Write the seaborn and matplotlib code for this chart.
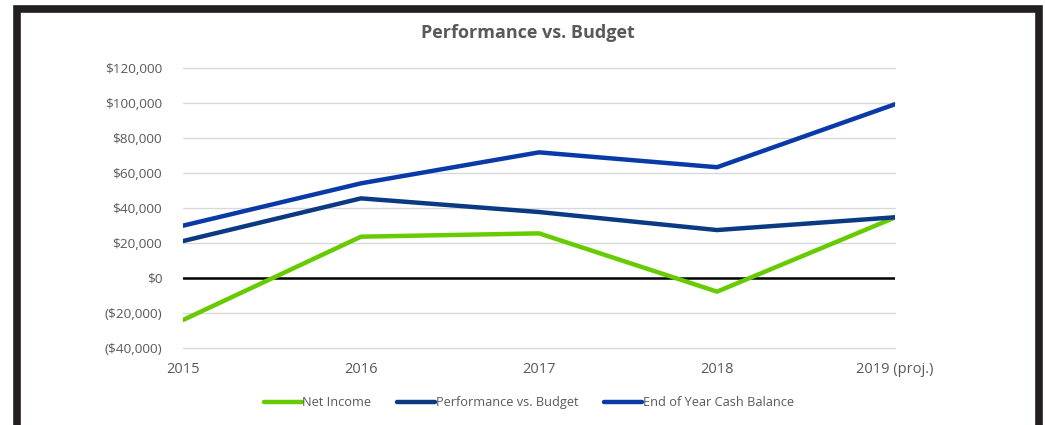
import pandas as pd
import numpy as np
import matplotlib.pyplot as plt
from matplotlib.patches import Rectangle
from matplotlib.ticker import FuncFormatter
import seaborn as sns

# --- data ---
years = ["2015", "2016", "2017", "2018", "2019 (proj.)"]
net_income = [-24000, 23600, 25500, -7800, 34600]
perf_vs_budget = [21100, 45500, 37700, 27400, 34700]
cash_balance = [29900, 54100, 71800, 63300, 99300]
series_names = ["Net Income", "Performance vs. Budget", "End of Year Cash Balance"]
y_ticks = [-40000, -20000, 0, 20000, 40000, 60000, 80000, 100000, 120000]

df = pd.DataFrame({
    "Year": years * 3,
    "Value": net_income + perf_vs_budget + cash_balance,
    "Series": [series_names[0]] * 5 + [series_names[1]] * 5 + [series_names[2]] * 5,
})

colors = {
    "Net Income": "#66CC00",
    "Performance vs. Budget": "#0B3A82",
    "End of Year Cash Balance": "#0A3AA8",
}

sns.set_theme(style="white")
plt.rcParams['font.family'] = ['Open Sans', 'DejaVu Sans']

fig = plt.figure(figsize=(10.45, 4.25), dpi=100)
ax = fig.add_axes([0.1751, 0.1812, 0.6814, 0.6588])

for y in y_ticks:
    if y != 0:
        ax.axhline(y, color="#D9D9D9", lw=1.0, zorder=0, clip_on=False)
ax.axhline(0, color="black", lw=1.8, zorder=1)

sns.lineplot(data=df, x="Year", y="Value", hue="Series", palette=colors,
             linewidth=3.2, ax=ax, sort=False, legend=False, zorder=3)

ax.set_xlim(0, 4)
ax.set_ylim(-40000, 120000)
ax.set_yticks(y_ticks)

def money(v, pos):
    if v < 0:
        return f"(${-v:,.0f})"
    return f"${v:,.0f}"

ax.yaxis.set_major_formatter(FuncFormatter(money))
ax.tick_params(axis="y", labelsize=9.7, labelcolor="#595959", length=0, pad=15)
ax.tick_params(axis="x", labelsize=10.5, labelcolor="#595959", length=0, pad=10)
ax.set_xlabel("")
ax.set_ylabel("")
for s in ax.spines.values():
    s.set_visible(False)

fig.text(0.505, 0.922, "Performance vs. Budget", ha="center", va="center",
         fontsize=13, fontweight="bold", color="#595959")

handles = [plt.Line2D([], [], color=colors[n], lw=3.2) for n in series_names]
fig.legend(handles, series_names, loc="center", bbox_to_anchor=(0.506, 0.052),
           ncol=3, frameon=False, fontsize=9.2, handlelength=3.0,
           handletextpad=0.05, columnspacing=2.0, labelcolor="#595959")

# black frame around the chart
fig.patches.append(Rectangle((0.0158, -0.003), 0.9785, 0.982, transform=fig.transFigure,
                             fill=False, edgecolor="#231F20", lw=5.5, zorder=10))

plt.savefig("out.png", dpi=100)
